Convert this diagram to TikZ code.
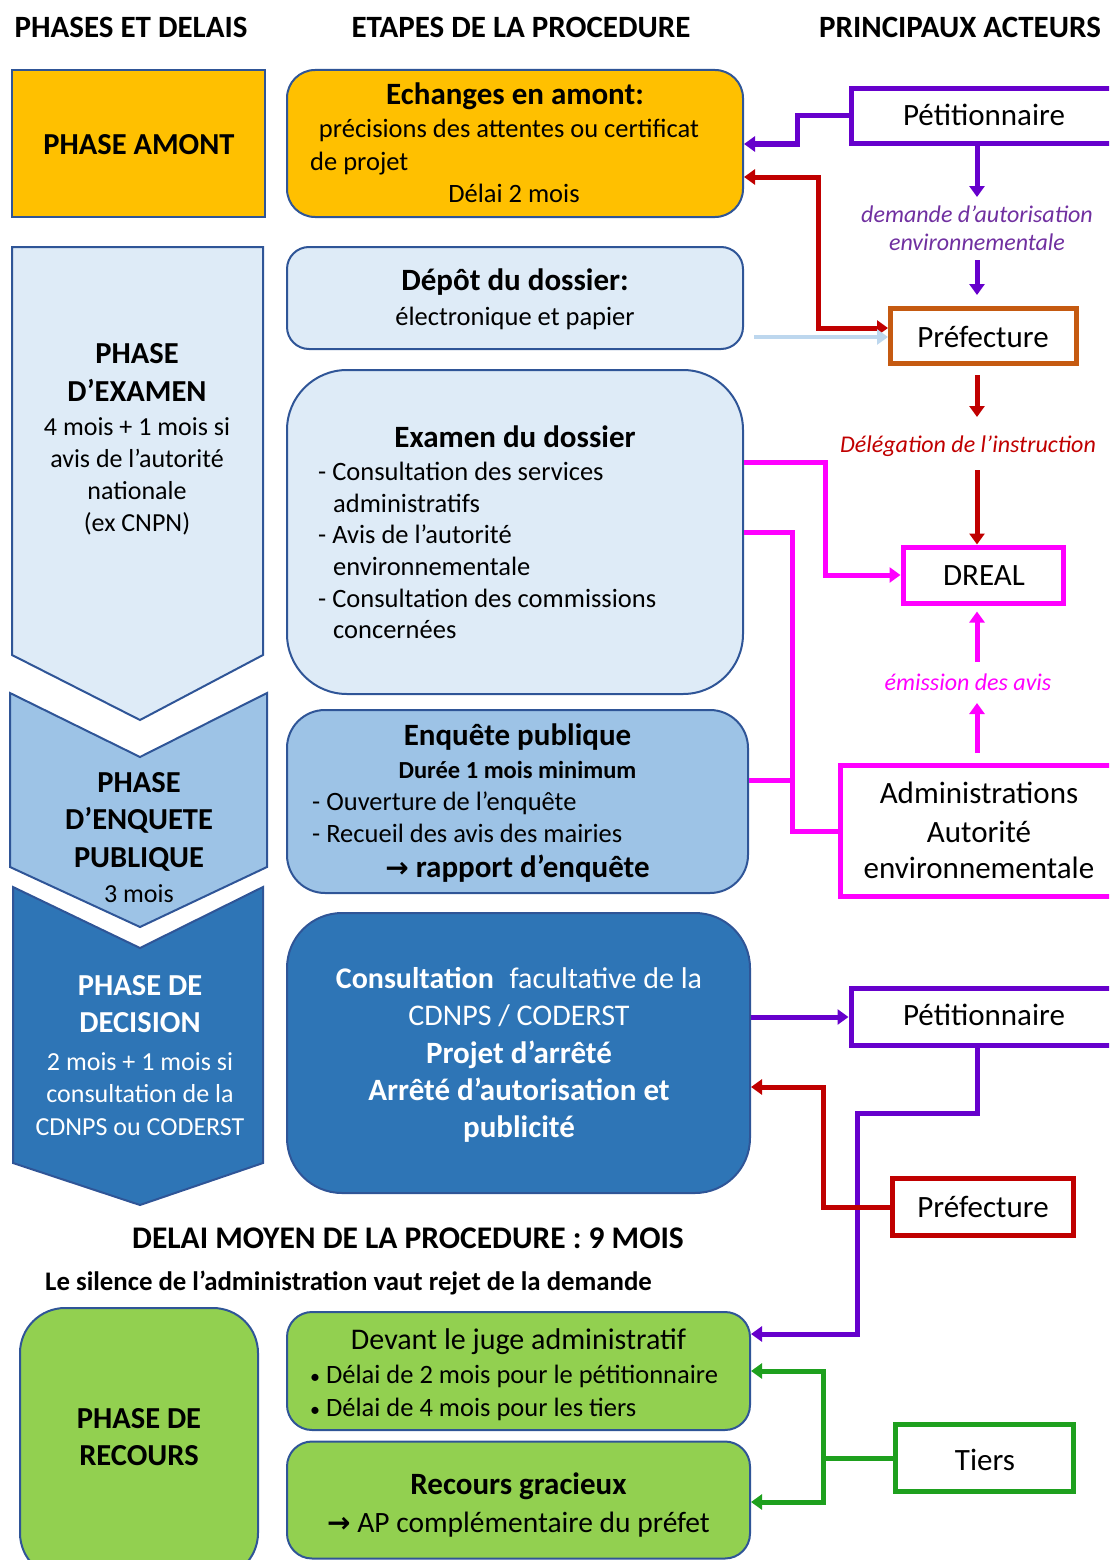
\documentclass[tikz,border=0pt]{standalone}
\usepackage{fontspec}
\setmainfont{Carlito}
\newfontfamily\dvfont{DejaVu Sans}
\usetikzlibrary{arrows.meta}
\definecolor{orangeA}{HTML}{FFC000}
\definecolor{bleuA}{HTML}{DEEBF7}
\definecolor{bleuB}{HTML}{9DC3E6}
\definecolor{bleuC}{HTML}{2E75B6}
\definecolor{vertA}{HTML}{92D050}
\definecolor{bord}{HTML}{2F5597}
\definecolor{viol}{HTML}{6600CC}
\definecolor{violtxt}{HTML}{7030A0}
\definecolor{rouge}{HTML}{C00000}
\definecolor{orbord}{HTML}{C55A11}
\definecolor{mag}{HTML}{FF00FF}
\definecolor{vertB}{HTML}{1EA01E}
\definecolor{bleuclair}{HTML}{BDD7EE}
\newcommand\fsz[2]{\fontsize{#1}{#2}\selectfont}
\newcommand\bigarrow{{\dvfont\bfseries\fsz{28}{30}→}}
\newcommand\smallbul{{\fsz{20}{24}•}}
\begin{document}
\begin{tikzpicture}[x=1pt,y=-1pt,
  cv/.style={line width=5pt},
  arr/.style={-{Triangle[length=11pt,width=15pt]}},
  arrb/.style={{Triangle[length=11pt,width=15pt]}-{Triangle[length=11pt,width=15pt]}},
  mbox/.style={draw=bord,line width=2pt,inner sep=0pt},
  actor/.style={line width=5pt,fill=white,inner sep=0pt},
  tl/.style={anchor=base,inner sep=0pt},
  tlw/.style={anchor=base west,inner sep=0pt},
  hdr/.style={tl,font=\fsz{31}{36}\bfseries},
  ph/.style={tl,font=\fsz{30.5}{34}\bfseries},
  phd/.style={tl,font=\fsz{26}{32}},
  bd/.style={font=\fsz{26.5}{32}},
  hd/.style={font=\fsz{31}{36}\bfseries},
  act/.style={tl,font=\fsz{31}{36}},
  lab/.style={tl,font=\fsz{24}{28}\itshape},
]
\useasboundingbox (0,0) rectangle (1109,1560);
\clip (0,0) rectangle (1109,1560);

% headers
\node[hdr] (hA) at (131,38) {PHASES ET DELAIS};
\node[hdr] (hB) at (521,38) {ETAPES DE LA PROCEDURE};
\node[hdr] (hC) at (960,38) {PRINCIPAUX ACTEURS};

% ---------- left column: phases
\node[mbox,fill=orangeA,minimum width=253pt,minimum height=147pt] (amont) at (138.5,143.5) {};
\node[ph] (amontT) at (139,154) {PHASE AMONT};

\draw[mbox,fill=bleuA] (12,247) -- (263,247) -- (263,655) -- (140,720) -- (12,655) -- cycle;
\node[ph] (exA) at (137,363) {PHASE};
\node[ph] (exB) at (137,401) {D’EXAMEN};
\node[phd] (exC) at (137,435) {4 mois + 1 mois si};
\node[phd] (exD) at (137,467) {avis de l’autorité};
\node[phd] (exE) at (137,499) {nationale};
\node[phd] (exF) at (137,531) {(ex CNPN)};

\draw[mbox,fill=bleuB] (10,693) -- (140,757) -- (267,693) -- (267,867) -- (140,927) -- (10,867) -- cycle;
\node[ph] (epA) at (139,792) {PHASE};
\node[ph] (epB) at (139,829) {D’ENQUETE};
\node[ph] (epC) at (139,867) {PUBLIQUE};
\node[phd] (epD) at (139,902) {3 mois};

\draw[mbox,fill=bleuC] (13,887) -- (140,948) -- (263,887) -- (263,1163) -- (140,1205) -- (13,1163) -- cycle;
\node[ph,text=white] (deA) at (140,995) {PHASE DE};
\node[ph,text=white] (deB) at (140,1032) {DECISION};
\node[phd,text=white] (deC) at (140,1070) {2 mois + 1 mois si};
\node[phd,text=white] (deD) at (140,1102) {consultation de la};
\node[phd,text=white] (deE) at (140,1135) {CDNPS ou CODERST};

\node[mbox,fill=vertA,rounded corners=45pt,minimum width=238pt,minimum height=270pt] (recours) at (139,1443) {};
\node[ph] (reA) at (139,1428) {PHASE DE};
\node[ph] (reB) at (139,1465) {RECOURS};

% ---------- middle column: steps
\node[mbox,fill=orangeA,rounded corners=28pt,minimum width=456pt,minimum height=147pt] (ech) at (515,143.5) {};
\node[tl,hd] (echA) at (515,105) {Echanges en amont:};
\node[tl,bd] (echB) at (509,138) {précisions des attentes ou certificat};
\node[tlw,bd] (echC) at (310,170) {de projet};
\node[tl,bd] (echD) at (514,202) {Délai 2 mois};

\node[mbox,fill=bleuA,rounded corners=22pt,minimum width=456pt,minimum height=102pt] (depot) at (515,298) {};
\node[tl,hd] (depA) at (515,290) {Dépôt du dossier:};
\node[tl,bd] (depB) at (515,325) {électronique et papier};

\node[mbox,fill=bleuA,rounded corners=60pt,minimum width=456pt,minimum height=324pt] (exam) at (515,532) {};
\node[tl,hd] (exmA) at (515,447) {Examen du dossier};
\node[tlw,bd] (exmB) at (318,480) {- Consultation des services};
\node[tlw,bd] (exmC) at (333,512) {administratifs};
\node[tlw,bd] (exmD) at (318,543) {- Avis de l’autorité};
\node[tlw,bd] (exmE) at (333,575) {environnementale};
\node[tlw,bd] (exmF) at (318,607) {- Consultation des commissions};
\node[tlw,bd] (exmG) at (333,638) {concernées};

\node[mbox,fill=bleuB,rounded corners=38pt,minimum width=461pt,minimum height=183pt] (enq) at (517.5,801.5) {};
\node[tl,hd] (enqA) at (517.5,745) {Enquête publique};
\node[tl,font=\fsz{24.5}{30}\bfseries] (enqB) at (517.5,778) {Durée 1 mois minimum};
\node[tlw,bd] (enqC) at (312,810) {- Ouverture de l’enquête};
\node[tlw,bd] (enqD) at (312,842) {- Recueil des avis des mairies};
\node[tl,hd] (enqE) at (517.5,877) {\bigarrow\ rapport d’enquête};

\node[mbox,fill=bleuC,rounded corners=55pt,minimum width=463pt,minimum height=280pt] (cons) at (518.5,1053) {};
\node[tl,font=\fsz{30}{36},text=white] (consA) at (519,988) {\textbf{Consultation}\hspace{0.3em} facultative de la};
\node[tl,font=\fsz{30}{36},text=white] (consB) at (519,1025) {CDNPS / CODERST};
\node[tl,hd,text=white] (consC) at (519,1063) {Projet d’arrêté};
\node[tl,hd,text=white] (consD) at (519,1100) {Arrêté d’autorisation et};
\node[tl,hd,text=white] (consE) at (519,1137) {publicité};

\node[tl,font=\fsz{31.5}{36}\bfseries] (delai) at (408,1248) {DELAI MOYEN DE LA PROCEDURE : 9 MOIS};
\node[tlw,font=\fsz{26.8}{32}\bfseries] (silence) at (45,1290) {Le silence de l’administration vaut rejet de la demande};

\node[mbox,fill=vertA,rounded corners=25pt,minimum width=463pt,minimum height=118pt] (juge) at (518.5,1371) {};
\node[tl,font=\fsz{30}{36}] (jugeA) at (518.5,1349) {Devant le juge administratif};
\node[tlw,bd] (jugeB) at (310,1383) {\smallbul\ Délai de 2 mois pour le pétitionnaire};
\node[tlw,bd] (jugeC) at (310,1416) {\smallbul\ Délai de 4 mois pour les tiers};

\node[mbox,fill=vertA,rounded corners=25pt,minimum width=463pt,minimum height=117pt] (recg) at (518.5,1500) {};
\node[tl,hd] (recgA) at (518.5,1494) {Recours gracieux};
\node[tl,font=\fsz{29.5}{34}] (recgB) at (518.5,1532) {\bigarrow\ AP complémentaire du préfet};

% ---------- right column: actors
\coordinate (ax) at (977,0);
\node[actor,draw=viol,minimum width=264pt,minimum height=55pt] (pet1) at (983,116) {};
\node[act] (pet1T) at (984,125) {Pétitionnaire};
\node[actor,draw=orbord,minimum width=186pt,minimum height=55pt] (pref1) at (983.5,336) {};
\node[act] (pref1T) at (983,347) {Préfecture};
\node[actor,draw=mag,minimum width=160pt,minimum height=56pt] (dreal) at (983,575) {};
\node[act] (drealT) at (984,585) {DREAL};
\node[actor,draw=mag,minimum width=280pt,minimum height=131pt] (admin) at (980,831) {};
\node[act] (adminA) at (979,803) {Administrations};
\node[act] (adminB) at (979,842) {Autorité};
\node[act] (adminC) at (979,878) {environnementale};
\node[actor,draw=viol,minimum width=264pt,minimum height=57pt] (pet2) at (983,1017) {};
\node[act] (pet2T) at (984,1025) {Pétitionnaire};
\node[actor,draw=rouge,minimum width=181pt,minimum height=57pt] (pref2) at (982.5,1207) {};
\node[act] (pref2T) at (983,1217) {Préfecture};
\node[actor,draw=vertB,minimum width=178pt,minimum height=67pt] (tiers) at (984,1458) {};
\node[act] (tiersT) at (985,1470) {Tiers};

% labels
\node[lab,text=violtxt] (demA) at (977,222) {demande d’autorisation};
\node[lab,text=violtxt] (demB) at (977,250) {environnementale};
\node[lab,text=rouge] (dele) at (968,452) {Délégation de l’instruction};
\node[lab,text=mag] (emis) at (968,690) {émission des avis};

% ---------- connectors
\draw[cv,viol,arr] (pet1.west) -- (797,116) |- (ech.east |- 0,144);
\draw[cv,rouge,arrb] (ech.east |- 0,177) -- (818,177) |- ([yshift=8pt]pref1.west);
\draw[line width=4pt,bleuclair,arr] ([xshift=10pt]depot.east |- 0,337) -- (pref1.west |- 0,337);
\draw[cv,viol,arr] (pet1.south -| ax) -- (977,197);
\draw[cv,viol,arr] (977,260) -- ([yshift=11pt]pref1.north -| ax);
\draw[cv,rouge,arr] ([yshift=-9pt]pref1.south -| ax) -- (977,417);
\draw[cv,rouge,arr] (977,470) -- (dreal.north -| ax);
\draw[cv,mag,arr] (exam.east |- 0,462) -- (825,462) |- (dreal.west);
\draw[cv,mag] (exam.east |- 0,532) -- (792,532) |- (admin.west);
\draw[cv,mag] (enq.east |- 0,780) -- (792,780);
\draw[cv,mag,arr] ([yshift=10pt]admin.north -| ax) -- (977,703);
\draw[cv,mag,arr] (977,662) -- ([yshift=-6pt]dreal.south -| ax);
\draw[cv,viol,arr] (cons.east |- pet2.west) -- (pet2.west);
\draw[cv,viol,arr] (pet2.south -| ax) -- (977,1113) -- (857,1113) -- (857,1334) -- (juge.east |- 0,1334);
\draw[cv,rouge,arr] (pref2.west) -| (823,1087) -- (cons.east |- 0,1087);
\draw[cv,vertB] (tiers.west) -- (823,1458);
\draw[cv,vertB,arrb] (juge.east |- 0,1371) -- (823,1371) -- (823,1502) -- (recg.east |- 0,1502);
\end{tikzpicture}
\end{document}
